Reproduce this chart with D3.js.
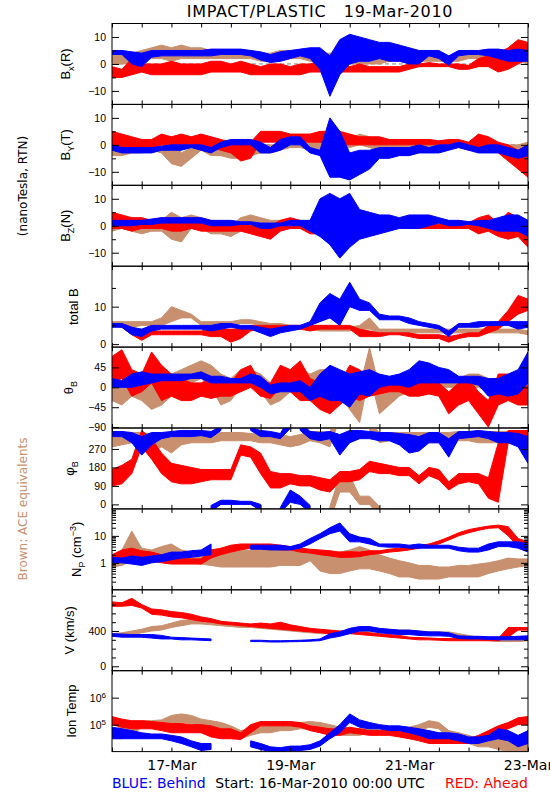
<!DOCTYPE html>
<html><head><meta charset="utf-8">
<script src="https://cdnjs.cloudflare.com/ajax/libs/d3/7.8.5/d3.min.js"></script>
<style>body{margin:0;background:#fff}svg{display:block}text{white-space:pre}</style>
</head><body><svg id="c" width="550" height="800"></svg>
<script>
// ---------- data (4-hour samples from 16-Mar-2010 00:00 UTC, [low, high] of the scatter) ----------
const sampleHours = d3.range(0, 169, 4);
const xTickHours = d3.range(0, 169, 12);
const dayLabelHours = [24, 72, 120, 168];
const dayLabels = ["17-Mar", "19-Mar", "21-Mar", "23-Mar"];

const bxBrown = [[0,3],[0,4],[0,4],[1,5],[2,6],[2,7],[1,6],[2,7],[2,6],[2,6],[2,5],[2,5],[2,5],[2,5],[2,5],[1,4],[1,4],[1,5],[2,5],[2,5],[1,5],[0,4],[0,4],[-1,4],[0,4],[0,4],[0,5],[0,4],[1,4],[1,4],[1,4],[1,3],[1,3],[1,3],[1,3],[1,3],[2,4],[2,4],[2,4],[1,4],[1,4],[1,4],[0,3]];
const bxRed = [[-5,-1],[-5,-2],[-4,2],[-3,0],[-4,0],[-4,0],[-4,1],[-4,0],[-4,0],[-4,0],[-3,1],[-3,1],[-3,0],[-3,1],[-4,0],[-4,-1],[-4,0],[-4,0],[-4,-1],[-4,0],[-3,0],[-3,1],[-3,2],[-3,0],[-3,-1],[-3,0],[-3,-1],[-3,-1],[-3,-1],[-3,-1],[-2,0],[-1,0],[-1,0.5],[-1,0],[-1,0],[-2,0],[-2,-0.5],[-1,2],[-1,3],[-3,4],[-2,6],[0,9],[2,8]];
const bxBlue = [[3.5,5],[3.5,5],[0,4.5],[-1,4],[2.5,5],[3,5],[3,5],[3,5],[3,5],[3,5],[3,5.5],[3.5,5.5],[3.5,5.5],[3.5,5.5],[3,5],[1.5,4.5],[0.5,3.5],[1,4.5],[2,5],[3,5.5],[2,6],[-2,6],[-12,3],[-4,9],[0,11],[1,10],[1,9],[2,8],[1,8],[1,7],[0,6],[0,5],[3,5],[2,5],[-0.5,3],[3,5],[3.5,5],[3.5,5],[3,5.5],[2,5.5],[1,5],[1,5.5],[1,5]];

const byBrown = [[-4,-2],[-4,-2],[-3,-1],[-3,-1],[-2,0],[-3,0],[-7,3],[-8,-3],[-5,-1],[-2,0],[-4,-1],[-4,-1],[-5,-2],[-5,-2],[-4,-1],[-3,0],[-3,0],[-2,0],[-1,0],[-1,0],[-2,1],[-2,2],[-3,2],[-2,3],[-1,2],[0,4],[-1,3],[-2,1],[-2,0],[-2,0],[-2,0],[-1,1],[-1,1],[-1,1],[-1,1],[-1,1],[-2,0],[-2,0],[-2,0],[-2,0],[-2,0],[-3,0],[-2,1]];
const byRed = [[-1,5],[-1,4],[-2,3],[-1,2],[-2,2],[0,4],[0,3],[0,4],[0,3],[0,4],[-1,3],[-2,2],[-3,1],[-6,0],[-5,1],[1,5],[1,5],[1,5],[1,4],[1,4],[1,4],[1,5],[0,5],[0,5],[0,4],[0,3],[0,3],[0,3],[0,2],[0,2],[0,2],[0,2],[0,2],[0,1.5],[0,2],[0,2],[-1,1],[-1,4],[-1,3],[-3,1],[-6,0],[-9,-2],[-12,0]];
const byBlue = [[-2,0],[-3,-1],[-3,-1],[-3,-1],[-3,-1],[-2,-0.5],[-2,0],[-2,0],[-1,0],[-2,0],[-3,-1],[-1,1],[0,2],[0,2],[0,2],[-3,1],[-3,-1],[-2,2],[0,3],[0,3],[-3,-1],[-4,-2],[-12,10],[-12,5],[-13,-3],[-11,-2],[-9,-2],[-5,-1],[-5,-1],[-4,-1],[-4,-1],[-3,0],[-3,-1],[-3,0],[-2,0],[-1,1],[-2,0],[-3,-1],[-3,0],[-3,0],[-4,-1],[-5,-2],[-4,0]];

const bzBrown = [[-2,2],[-1,2],[-2,2],[-3,1],[-2,2],[-2,2],[-5,5],[-6,3],[-1,4],[-1,3],[-3,2],[-3,1],[-4,0],[-2,3],[0,4],[0,3],[-1,2],[-1,2],[0,2],[-1,2],[-2,1],[-2,2],[-3,1],[-2,2],[-3,3],[-2,4],[-3,3],[-3,0],[-1,1],[0,2],[0,2],[0,2],[0,2],[0,2],[-1,1],[0,2],[0,1.5],[-1,1],[-1,2],[-1,2],[-1,2],[-1,1],[-1,1]];
const bzRed = [[-1,5],[-1,4],[-2,3],[-1,3],[-1,2],[-1,3],[-2,2],[-2,2],[-1,2],[-2,1],[-2,1],[-2,1],[-2,0],[-2,1],[-3,0],[-4,0],[-5,0],[-2,2],[-1,3],[-1,2],[-3,1],[-3,0],[-4,1],[-2,2],[-4,1],[-2,0],[-1,1],[-1,1],[-1,1],[0,1],[-1,1],[-1,0],[-1,1],[-1,0.5],[-1,0.5],[-1,0],[-1,1],[-3,3],[-2,4],[-4,1],[-5,5],[-4,3],[-8,-1]];
const bzBlue = [[0,2],[0,2],[0,2],[0.5,2],[0.5,2.5],[1,3],[1,3],[1,3],[1,3],[1,3],[0,2],[0,2],[0,2],[0.5,1.5],[0.5,1.5],[-1,1],[-1,1],[0,1],[0,2],[0,2],[-2,2],[-4,10],[-7,12],[-12,10],[-8,12],[-5,6],[-4,5],[-3,4],[-2,4],[-1,3],[-1,4],[-1,4],[0,4],[1,3],[0,2],[0,2],[0.5,1.5],[0,2],[-1,2],[-2,3],[-2,4],[-2,4],[-4,2]];

const btBrown = [[5,6],[4.5,6],[4.5,6],[5,6],[5,6],[5,7],[6,10],[7,9],[7,8],[5,6],[5,6],[5,6],[5,6],[5.5,6.5],[5.5,6.5],[5,6],[4.5,5.5],[4.5,5.5],[4,5],[4,5],[4,5],[3.5,5],[3.5,5],[3.5,4.5],[3.5,4.5],[4,5],[4,7],[3,4],[3,4],[3,4],[3,4],[3,4],[3,4],[3,4],[3,4],[3,4],[3,4],[3,4],[3,4],[3,4],[3,4],[3,4],[2.5,3.5]];
const btRed = [[5,5.5],[4.5,5.5],[2.5,4.5],[1,3.5],[2.5,3.5],[2.5,3.5],[2.5,3.5],[2.5,3.5],[2.5,3.5],[2.5,3.5],[2,4],[2,4],[0.5,4],[1.5,4],[3.5,5],[4,5],[4,5],[4,5],[4,5],[4,5],[3.5,5],[4,5],[4,5],[4,5],[4,5],[2,4],[2,3.5],[2,3],[2.5,3],[2.5,3],[2,3],[1.5,2.5],[1.5,2.5],[1.5,2.5],[0.5,2],[1.5,2.5],[2,3],[2,3],[3,5],[4,6],[6,9],[8,13],[9,12]];
const btBlue = [[4.5,5.5],[4.5,5.5],[2.5,4.5],[2,4],[3.5,5],[4,5],[4,5],[4,5],[4,5],[4,5],[3.5,5],[4,5.5],[4.5,5.5],[4,5],[4,5],[3,4.5],[2,4],[3,4.5],[3.5,5],[4,5],[5,6],[6,11],[7,13.5],[5,12],[10,16.5],[9,12],[9,11],[6.5,8],[6.5,7.5],[6.5,7.5],[5.5,7],[5,6],[4.5,5.5],[4,5],[2,3.5],[4.5,5.5],[4.5,5.5],[4.5,6],[5,6],[5,6],[5,6],[4,6],[4.5,6]];

const thBrown = [[-30,20],[-40,10],[-20,20],[-30,20],[-50,20],[-40,10],[-20,30],[0,40],[10,50],[20,60],[0,50],[-40,30],[-30,20],[0,40],[0,40],[-10,30],[-40,10],[-30,10],[-10,40],[-20,40],[-20,30],[-20,40],[-10,40],[-20,30],[-50,10],[-80,0],[30,90],[-60,0],[-40,10],[-20,20],[-10,20],[0,30],[0,40],[0,30],[0,30],[0,20],[0,30],[0,30],[-10,20],[-20,20],[-20,10],[-10,20],[-10,20]];
const thRed = [[10,70],[20,85],[-20,40],[-10,30],[10,80],[-30,50],[-20,30],[-30,20],[-30,10],[-20,10],[-25,20],[-20,20],[-20,10],[-10,40],[0,50],[-20,10],[-25,10],[0,50],[-10,40],[-30,60],[-30,20],[-50,10],[-60,0],[-40,10],[-20,50],[-30,40],[-20,20],[-15,20],[-10,20],[-10,20],[-20,15],[-20,20],[-15,15],[-20,10],[-60,-10],[-40,10],[-30,20],[-60,-10],[-90,-30],[-40,30],[-30,30],[-40,20],[-40,0]];
const thBlue = [[0,20],[0,15],[0,30],[5,35],[10,30],[15,30],[15,30],[15,30],[20,30],[20,35],[10,25],[10,25],[10,20],[10,20],[10,30],[0,25],[-15,5],[-10,10],[-10,10],[-10,15],[-30,0],[-20,30],[-30,50],[-30,40],[-45,30],[-15,35],[-20,40],[0,30],[5,25],[5,30],[0,40],[10,60],[10,55],[10,45],[10,40],[10,25],[10,25],[5,25],[-20,20],[-15,20],[-20,30],[-15,40],[10,80]];

const phBrown = [[280,330],[290,340],[300,350],[300,350],[260,340],[280,340],[250,340],[290,350],[300,350],[300,350],[300,350],[310,350],[310,350],[310,350],[310,345],[300,340],[300,345],[290,340],[280,330],[290,340],[310,355],[300,355],[280,350],[60,140],[60,140],[0,40],[0,40],[300,350],[310,350],[310,350],[310,350],[300,350],[300,350],[300,350],[300,350],[310,355],[310,355],[300,350],[300,355],[300,355],[300,355],[300,355],[290,350]];
const phRed = [[90,170],[100,190],[150,220],[280,360],[220,320],[150,250],[110,200],[100,190],[100,180],[110,170],[120,170],[120,170],[120,170],[240,290],[230,280],[150,250],[80,160],[80,150],[100,150],[90,140],[90,140],[70,130],[60,120],[110,160],[110,160],[120,170],[160,210],[150,200],[150,190],[140,180],[140,180],[100,140],[140,180],[120,170],[70,110],[100,150],[110,150],[100,150],[30,130],[10,300],[300,360],[300,360],[310,360]];
const phBlue = [[330,355],[330,355],[300,350],[240,330],[290,350],[320,350],[330,355],[330,360],[330,360],[335,360],[325,355],[0,20],[0,20],[0,15],[0,15],[330,360],[330,355],[320,345],[10,70],[0,40],[320,355],[310,350],[320,355],[240,340],[300,360],[320,360],[320,355],[310,350],[310,350],[290,345],[250,340],[260,330],[300,350],[300,350],[230,320],[320,355],[325,355],[330,360],[320,355],[300,350],[300,350],[280,345],[200,330]];

const npBrown = [[0.7,1.8],[0.8,3],[1.2,15],[1.3,3.5],[1.3,3],[1.5,4],[1.8,5],[1.2,3],[1.0,2.5],[0.9,2],[0.8,2],[0.7,2.5],[0.7,2.5],[0.7,2.8],[0.7,3],[0.7,3.2],[0.7,3],[0.8,3],[0.8,2.8],[0.8,2.5],[1.2,2.5],[0.5,2.3],[0.4,2.2],[0.4,2.5],[0.5,3],[0.6,4],[0.6,3],[0.5,2],[0.4,1.5],[0.3,1.2],[0.3,1.0],[0.25,0.8],[0.25,0.8],[0.25,0.7],[0.3,0.7],[0.3,0.8],[0.3,0.8],[0.3,0.9],[0.4,1.0],[0.5,1.2],[0.6,1.5],[0.7,1.4],[0.8,1.4]];
const npRed = [[1.2,2.0],[1.5,3.0],[1.5,3.5],[1.3,2.8],[1.2,2.5],[1.0,2.0],[0.9,1.5],[0.9,1.5],[0.9,1.4],[0.9,1.4],[1.5,3],[2,3.5],[2.5,4.5],[3,5],[3.5,5],[3.5,5],[3.5,5],[3,4.5],[3,4],[2.5,3.5],[2.3,3.2],[2.0,3.0],[1.8,2.8],[1.6,2.5],[1.6,2.6],[1.7,2.5],[2.0,2.8],[2.2,2.8],[2.5,3.2],[2.7,3.5],[3,3.8],[3.5,4.3],[4.2,5],[5,6.5],[7,9],[10,13],[13,17],[16,20],[19,23],[20,25],[10,22],[4,8],[3,6]];
const npBlue = [[1.0,1.6],[1.0,1.5],[0.9,1.8],[0.8,1.6],[1.0,1.8],[1.1,2.0],[1.3,2.5],[1.5,2.5],[1.6,2.8],[1.8,3.0],[2.0,5.0],null,null,null,[3.2,4.5],[3.2,4.5],[3.0,4.5],[3.0,4.5],[3.0,4.0],[3.5,5],[5,8],[8,12],[12,20],[15,30],[6,12],[6,9],[5,8],[4,5],[3.8,5],[3.8,5],[3.5,4.5],[3.5,5],[3.5,4.5],[3.5,4.5],[3.5,4.5],[2.8,3.8],[2.5,3.5],[2.5,3.5],[3,5],[4,6],[4,6],[3.5,6],[2.5,5]];

const vBrown = [[340,370],[350,380],[360,400],[380,420],[400,450],[410,460],[440,490],[460,520],[480,530],[480,520],[470,510],[460,500],[450,490],[440,480],[440,470],[430,460],[420,460],[410,450],[400,440],[390,430],[380,420],[370,410],[370,400],[370,400],[380,410],[390,420],[390,420],[390,420],[390,420],[380,410],[380,410],[370,400],[360,390],[360,390],[360,390],[340,370],[320,350],[300,330],[290,320],[280,310],[280,310],[280,310],[290,310]];
const vRed = [[680,730],[680,720],[690,770],[660,700],[590,650],[580,640],[560,620],[550,610],[530,590],[510,560],[500,540],[480,510],[470,500],[460,490],[450,480],[440,490],[430,480],[420,500],[410,470],[400,450],[390,430],[380,420],[370,410],[370,400],[370,400],[360,390],[350,380],[340,370],[330,360],[320,350],[310,330],[300,325],[300,320],[295,315],[290,315],[290,315],[290,315],[290,315],[290,315],[290,315],[330,440],[410,440],[410,440]];
const vBlue = [[340,370],[330,365],[330,360],[330,360],[320,360],[310,350],[310,330],[300,325],[300,320],[295,315],[290,310],null,null,null,[280,295],[280,295],[275,290],[275,290],[278,292],[280,295],[285,300],[290,310],[320,370],[340,390],[370,430],[400,450],[400,450],[380,430],[370,420],[360,410],[360,410],[350,400],[345,390],[345,390],[340,380],[315,345],[310,340],[310,340],[305,335],[300,335],[300,335],[300,340],[300,345]];

const tBrown = [[3e4,7e4],[3e4,8e4],[4e4,1.0e5],[8e4,1.4e5],[8e4,1.4e5],[9e4,1.5e5],[1.1e5,2.2e5],[1.2e5,2.5e5],[1.1e5,2.2e5],[9e4,1.6e5],[8e4,1.4e5],[7e4,1.2e5],[5e4,9e4],[3e4,6e4],[4e4,7e4],[5e4,9e4],[5e4,9e4],[6e4,1.0e5],[6e4,1.1e5],[7e4,1.2e5],[7e4,1.3e5],[6e4,1.2e5],[4e4,1.0e5],[4e4,8e4],[4e4,7e4],[4e4,7e4],[5e4,9e4],[5e4,8e4],[5e4,8e4],[5e4,8e4],[5e4,8e4],[6e4,1.0e5],[8e4,1.4e5],[7e4,1.2e5],[3e4,6e4],[3e4,5e4],[2e4,4e4],[1.5e4,3e4],[1.5e4,3e4],[1.2e4,3e4],[1e4,3e4],[1e4,2.5e4],[1e4,3e4]];
const tRed = [[1.0e5,2.0e5],[8e4,1.6e5],[7e4,1.4e5],[7e4,1.4e5],[7e4,1.3e5],[6e4,1.2e5],[5e4,1.1e5],[5e4,1.1e5],[5e4,1.0e5],[5e4,1.0e5],[3.5e4,9e4],[3e4,7e4],[3e4,7e4],[2.8e4,5e4],[5e4,1.0e5],[9e4,1.3e5],[9e4,1.3e5],[9e4,1.3e5],[9e4,1.3e5],[8e4,1.2e5],[6e4,9e4],[5e4,8e4],[4e4,7e4],[4e4,7e4],[5e4,8e4],[4.5e4,7e4],[4e4,6e4],[4e4,6e4],[4e4,6e4],[3.5e4,6e4],[3e4,5e4],[2.5e4,4e4],[2e4,3e4],[2e4,3e4],[2e4,3e4],[2e4,3e4],[2e4,3e4],[2.5e4,4e4],[3e4,6e4],[5e4,9e4],[7e4,1.2e5],[1.0e5,1.8e5],[1.0e5,2.0e5]];
const tBlue = [[3e4,8e4],[3e4,7e4],[3e4,6e4],[3e4,5e4],[3e4,4.5e4],[3e4,4.5e4],[2.5e4,4e4],[2e4,3.5e4],[1.5e4,2.5e4],[1.1e4,2e4],[1.2e4,2e4],null,null,null,[1.5e4,2.5e4],[1.2e4,2e4],[1.0e4,1.5e4],[1.0e4,1.4e4],[1.1e4,1.6e4],[1.1e4,1.6e4],[1.2e4,1.8e4],[1.6e4,2.5e4],[3e4,5e4],[5e4,1.0e5],[1.2e5,2.5e5],[8e4,1.5e5],[7e4,1.2e5],[7e4,1.0e5],[6e4,9e4],[6e4,9e4],[5e4,8e4],[4e4,7e4],[3e4,6e4],[3e4,5e4],[3e4,5e4],[2.5e4,4.5e4],[2e4,3.5e4],[2e4,3.5e4],[2.5e4,4e4],[3e4,7e4],[2.5e4,6e4],[1.5e4,4e4],[2e4,6e4]];

// ---------- layout / style ----------
const BLUE = "#0000ff", RED = "#ff0000", BROWN = "#c8906e";
const X0 = 112, X1 = 528, TOP = 23.5, PH = 80.9;
const T0 = Date.UTC(2010, 2, 16);
const hToDate = h => new Date(T0 + h * 3600000);
const times = sampleHours.map(hToDate);

const panels = [
  {lab:[["B"],["x","sub"],["(R)"]], lx:70, domain:[-15,15], major:[-10,0,10], labels:["\u221210","0","10"], minor:[-5,5], zero:true, s:[bxBrown,bxRed,bxBlue]},
  {lab:[["B"],["Y","sub"],["(T)"]], lx:70, domain:[-15,15], major:[-10,0,10], labels:["\u221210","0","10"], minor:[-5,5], zero:true, s:[byBrown,byRed,byBlue]},
  {lab:[["B"],["Z","sub"],["(N)"]], lx:70, domain:[-15,15], major:[-10,0,10], labels:["\u221210","0","10"], minor:[-5,5], zero:true, s:[bzBrown,bzRed,bzBlue]},
  {lab:[["total B"]], lx:78, domain:[-0.8,20.8], major:[0,10], labels:["0","10"], minor:[5,15], s:[btBrown,btRed,btBlue]},
  {lab:[["\u03b8"],["B","sub"]], lx:73, domain:[-92,91], major:[-90,-45,0,45], labels:["\u221290","\u221245","0","45"], minor:[], s:[thBrown,thRed,thBlue]},
  {lab:[["\u03c6"],["B","sub"]], lx:74, domain:[-22,372], major:[0,90,180,270], labels:["0","90","180","270"], minor:[], wrap:360, s:[phBrown,phRed,phBlue]},
  {lab:[["N"],["P","sub"],[" (cm"],["\u22123","sup"],[")"]], lx:81, log:true, domain:[0.1,100], major:[1,10], labels:["1","10"], minor:[0.2,0.3,0.4,0.5,0.6,0.7,0.8,0.9,2,3,4,5,6,7,8,9,20,30,40,50,60,70,80,90], s:[npBrown,npRed,npBlue]},
  {lab:[["V (km/s)"]], lx:74, domain:[-50,867], major:[0,400], labels:["0","400"], minor:[100,200,300,500,600,700,800], s:[vBrown,vRed,vBlue]},
  {lab:[["Ion Temp"]], lx:76, log:true, domain:[1e4,1e7], major:[1e5,1e6], labels:["10|5","10|6"], minor:[], s:[tBrown,tRed,tBlue]}
];
const colors = [BROWN, RED, BLUE];

// split a series into runs of {t, lo, hi}; for wrapped angles, continue across the wrap (clipped by the panel)
function toRuns(ser, wrap) {
  const mid = d => (d[0] + d[1]) / 2;
  const runs = []; let cur = null;
  ser.forEach((d, j) => {
    if (d == null) { cur = null; return; }
    if (cur && wrap && Math.abs(mid(d) - mid(ser[j - 1])) > wrap / 2) cur = null;
    if (!cur) { cur = []; runs.push(cur); }
    cur.push(j);
  });
  return runs.map(run => {
    const out = run.map(j => ({t: times[j], lo: ser[j][0], hi: ser[j][1]}));
    if (wrap) {
      const a = run[0], b = run[run.length - 1];
      const pre = ser[a - 1], post = ser[b + 1];
      if (pre) { const s = mid(pre) > mid(ser[a]) ? -wrap : wrap; out.unshift({t: times[a - 1], lo: pre[0] + s, hi: pre[1] + s}); }
      if (post) { const s = mid(post) > mid(ser[b]) ? -wrap : wrap; out.push({t: times[b + 1], lo: post[0] + s, hi: post[1] + s}); }
    }
    return out;
  });
}

const svg = d3.select("#c");
const FONT = "'DejaVu Sans', sans-serif";
const x = d3.scaleUtc().domain([hToDate(0), hToDate(168)]).range([X0, X1]);

// title
svg.append("text").attr("x", 320).attr("y", 17).attr("text-anchor", "middle")
  .attr("font-family", FONT).attr("font-size", 16).attr("letter-spacing", 0.7).attr("xml:space", "preserve")
  .text("IMPACT/PLASTIC   19-Mar-2010");

panels.forEach((p, i) => {
  const top = TOP + i * PH, bot = top + PH;
  const y = (p.log ? d3.scaleLog() : d3.scaleLinear()).domain(p.domain).range([bot, top]);
  const g = svg.append("g");
  g.append("clipPath").attr("id", "cl" + i).append("rect")
    .attr("x", X0).attr("y", top).attr("width", X1 - X0).attr("height", PH);
  const plot = g.append("g").attr("clip-path", `url(#cl${i})`);
  if (p.zero) plot.append("line").attr("x1", X0).attr("x2", X1).attr("y1", y(0)).attr("y2", y(0))
    .attr("stroke", "#888").attr("stroke-dasharray", "4,3");
  const area = d3.area().x(d => x(d.t)).y0(d => y(d.lo)).y1(d => y(d.hi)).curve(d3.curveLinear);
  p.s.forEach((ser, k) => {
    toRuns(ser, p.wrap).forEach(run => {
      plot.append("path").datum(run).attr("d", area)
        .attr("fill", colors[k]).attr("stroke", colors[k]).attr("stroke-width", 1).attr("stroke-linejoin", "round");
    });
  });

  // y axes (left labelled, right plain)
  const la = g.append("g").attr("transform", `translate(${X0},0)`)
    .call(d3.axisLeft(y).tickValues(p.major).tickSize(-7).tickPadding(14).tickFormat((d, j) => p.labels[j]));
  la.selectAll("text").attr("font-family", "'Liberation Sans', Arial, sans-serif").attr("font-size", 10.5).attr("fill", "#000").attr("x", -6);
  la.selectAll("text").each(function() {
    const t = d3.select(this), s = t.text();
    if (s.includes("|")) {
      const [b, e] = s.split("|");
      t.text(b);
      t.append("tspan").attr("dy", "-0.45em").attr("font-size", 8).text(e);
    }
  });
  g.append("g").attr("transform", `translate(${X1},0)`)
    .call(d3.axisRight(y).tickValues(p.major).tickSize(-7).tickFormat(""));
  if (p.minor.length) {
    g.append("g").attr("transform", `translate(${X0},0)`).call(d3.axisLeft(y).tickValues(p.minor).tickSize(-4).tickFormat(""));
    g.append("g").attr("transform", `translate(${X1},0)`).call(d3.axisRight(y).tickValues(p.minor).tickSize(-4).tickFormat(""));
  }
  // x ticks top and bottom
  const xt = xTickHours.map(hToDate);
  g.append("g").attr("transform", `translate(0,${bot})`).call(d3.axisBottom(x).tickValues(xt).tickSize(-4).tickFormat(""));
  g.append("g").attr("transform", `translate(0,${top})`).call(d3.axisTop(x).tickValues(xt).tickSize(-4).tickFormat(""));
  g.selectAll(".domain").remove();
  g.selectAll(".tick line").attr("stroke", "#000");
  // frame
  g.append("rect").attr("x", X0).attr("y", top).attr("width", X1 - X0).attr("height", PH)
    .attr("fill", "none").attr("stroke", "#000").attr("stroke-width", 1);

  // y label
  const yl = g.append("text").attr("transform", `translate(${p.lx},${(top + bot) / 2}) rotate(-90)`)
    .attr("text-anchor", "middle").attr("font-family", "'Liberation Sans', Arial, sans-serif").attr("font-size", 13);
  let shift = 0;
  p.lab.forEach(([txt, kind]) => {
    const ts = yl.append("tspan").text(txt);
    if (kind === "sub") { ts.attr("font-size", 9).attr("dy", 4 - shift); shift = 4; }
    else if (kind === "sup") { ts.attr("font-size", 9).attr("dy", -5 - shift); shift = -5; }
    else { if (shift) ts.attr("dy", -shift); shift = 0; }
  });

  if (i === panels.length - 1) {
    const ba = g.append("g").attr("transform", `translate(0,${bot})`)
      .call(d3.axisBottom(x).tickValues(dayLabelHours.map(hToDate)).tickSize(0).tickPadding(8)
        .tickFormat((d, j) => dayLabels[j]));
    ba.select(".domain").remove();
    ba.selectAll("text").attr("font-family", FONT).attr("font-size", 14).attr("fill", "#000").attr("dy", null).attr("y", 18.5);
  }
});

// side labels
svg.append("text").attr("transform", "translate(27,186) rotate(-90)").attr("text-anchor", "middle")
  .attr("font-family", FONT).attr("font-size", 12).text("(nanoTesla, RTN)");
svg.append("text").attr("transform", "translate(27,509) rotate(-90)").attr("text-anchor", "middle")
  .attr("font-family", FONT).attr("font-size", 12).attr("fill", BROWN).text("Brown: ACE equivalents");

// footer
svg.append("text").attr("x", X0).attr("y", 788).attr("font-family", FONT).attr("font-size", 14).attr("fill", BLUE).text("BLUE: Behind");
svg.append("text").attr("x", 320).attr("y", 788).attr("text-anchor", "middle").attr("font-family", FONT).attr("font-size", 14).text("Start: 16-Mar-2010 00:00 UTC");
svg.append("text").attr("x", X1).attr("y", 788).attr("text-anchor", "end").attr("font-family", FONT).attr("font-size", 14).attr("fill", RED).text("RED: Ahead");
</script>
</body></html>
